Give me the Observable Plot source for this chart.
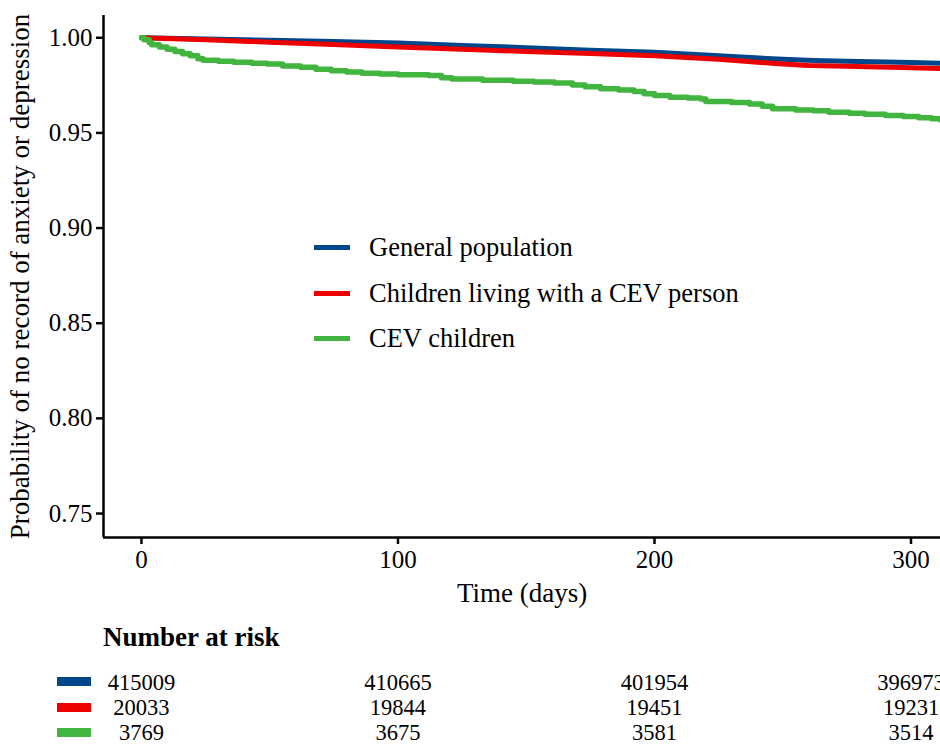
<!DOCTYPE html>
<html><head><meta charset="utf-8">
<script src="https://cdn.jsdelivr.net/npm/d3@7"></script>
<script src="https://cdn.jsdelivr.net/npm/@observablehq/plot@0.6"></script>
<style>
html,body{margin:0;padding:0;background:#fff;overflow:hidden;}
#wrap{position:relative;width:940px;height:744px;overflow:hidden;font-family:"Liberation Serif","Times New Roman",serif;color:#000;}
.abs{position:absolute;}
#wrap svg{overflow:hidden;}
</style></head><body><div id="wrap"></div>
<script>
// ---- data ----
const groups = ["General population", "Children living with a CEV person", "CEV children"];
const colors = ["#00468B", "#ED0000", "#42B540"];

const generalDays = [0, 25, 50, 75, 100, 125, 150, 175, 200, 225, 250, 262, 275, 300, 311.5];
const generalSurv = [1.000, 0.9994, 0.9987, 0.9980, 0.9972, 0.9960, 0.9948, 0.9935, 0.9924, 0.9905, 0.9887, 0.9880, 0.9876, 0.9870, 0.9866];

const householdDays = [0, 25, 50, 75, 100, 125, 150, 175, 200, 225, 250, 260, 275, 300, 311.5];
const householdSurv = [1.000, 0.9989, 0.9977, 0.9965, 0.9952, 0.9940, 0.9928, 0.9917, 0.9905, 0.9887, 0.9862, 0.9854, 0.9850, 0.9843, 0.9838];

const cevDays = [0, 1, 3, 4, 7, 10, 13, 16, 19, 22, 24, 30, 36, 43, 49, 55, 62, 68, 74, 80, 86, 93, 100, 112, 117, 121, 133, 145, 153, 161, 168, 173, 179, 186, 192, 196, 200, 206, 213, 218, 220, 230, 237, 242, 246, 255, 262, 268, 276, 282, 290, 297, 303, 308, 311.5];
const cevSurv = [1.000, 0.9990, 0.9975, 0.9963, 0.9952, 0.9940, 0.9928, 0.9916, 0.9905, 0.9890, 0.9882, 0.9876, 0.9871, 0.9866, 0.9862, 0.9852, 0.9845, 0.9834, 0.9827, 0.9820, 0.9814, 0.9810, 0.9805, 0.9802, 0.9790, 0.9783, 0.9777, 0.9772, 0.9767, 0.9762, 0.9752, 0.9742, 0.9732, 0.9725, 0.9717, 0.9706, 0.9696, 0.9688, 0.9684, 0.9678, 0.9665, 0.9660, 0.9652, 0.9640, 0.9627, 0.9621, 0.9616, 0.9609, 0.9604, 0.9598, 0.9592, 0.9586, 0.9580, 0.9574, 0.9568];

const xTicks = [0, 100, 200, 300];
const yTicks = [0.75, 0.80, 0.85, 0.90, 0.95, 1.00];
const xDomain = [-14.8, 311.5];
const yDomain = [0.7374, 1.0117];

const riskTimes = [0, 100, 200, 300];
const riskGeneral = [415009, 410665, 401954, 396973];
const riskHousehold = [20033, 19844, 19451, 19231];
const riskCev = [3769, 3675, 3581, 3514];

// ---- build tables ----
const seriesDays = [generalDays, householdDays, cevDays];
const seriesSurv = [generalSurv, householdSurv, cevSurv];
const curves = groups.map((g, i) => seriesDays[i].map((d, j) => ({group: g, day: d, surv: seriesSurv[i][j]})));
const riskSeries = [riskGeneral, riskHousehold, riskCev];
const riskRows = groups.flatMap((g, i) => riskTimes.map((t, j) => ({group: g, time: t, n: riskSeries[i][j]})));

const font = '"Liberation Serif","Times New Roman",serif';
const wrap = document.getElementById("wrap");

const main = Plot.plot({
  width: 940, height: 610,
  marginTop: 15, marginBottom: 73, marginLeft: 103, marginRight: 0,
  style: {fontFamily: font, fontSize: "25px", color: "#000", background: "#fff"},
  x: {domain: xDomain},
  y: {domain: yDomain},
  color: {domain: groups, range: colors},
  marks: [
    Plot.axisY(yTicks, {tickFormat: d3.format(".2f"), tickSize: 7, tickPadding: 4, strokeWidth: 2.5, fontSize: 25, label: null}),
    Plot.axisY({ticks: [], tickSize: 0,
      label: "Probability of no record of anxiety or depression", labelArrow: false, labelAnchor: "center", labelOffset: 94, fontSize: 27}),
    Plot.axisX(xTicks, {tickSize: 7, tickPadding: 6, strokeWidth: 2.5, fontSize: 25, label: null}),
    Plot.axisX({ticks: [], tickSize: 0,
      label: "Time (days)", labelArrow: false, labelAnchor: "center", labelOffset: 64, fontSize: 27}),
    Plot.line(curves[0], {x: "day", y: "surv", stroke: "group", strokeWidth: 5, curve: "linear"}),
    Plot.line(curves[1], {x: "day", y: "surv", stroke: "group", strokeWidth: 5, curve: "linear"}),
    Plot.line(curves[2], {x: "day", y: "surv", stroke: "group", strokeWidth: 5.5, curve: "step-after"}),
    Plot.ruleX([xDomain[0]], {strokeWidth: 2.5}),
    Plot.ruleY([yDomain[0]], {strokeWidth: 2.5})
  ]
});
main.style.position = "absolute"; main.style.left = "0px"; main.style.top = "0px";
wrap.appendChild(main);

// in-panel legend
const legendY = [247, 293, 338];
groups.forEach((g, i) => {
  const sw = document.createElement("div");
  sw.className = "abs";
  Object.assign(sw.style, {left: "314px", top: (legendY[i] - 2.5) + "px", width: "36px", height: "5px", background: colors[i]});
  wrap.appendChild(sw);
  const t = document.createElement("div");
  t.className = "abs";
  Object.assign(t.style, {left: "369px", top: (legendY[i] - 15) + "px", fontSize: "26.5px", lineHeight: "30px", whiteSpace: "nowrap"});
  t.textContent = g;
  wrap.appendChild(t);
});

// Number at risk title
const title = document.createElement("div");
title.className = "abs";
Object.assign(title.style, {left: "103px", top: "622px", fontSize: "27px", fontWeight: "bold", lineHeight: "30px", whiteSpace: "nowrap"});
title.textContent = "Number at risk";
wrap.appendChild(title);

// risk table
const table = Plot.plot({
  width: 940, height: 89,
  marginTop: 26.5, marginBottom: 12, marginLeft: 103, marginRight: 0,
  style: {fontFamily: font, fontSize: "22.5px", color: "#000", background: "transparent", overflow: "visible"},
  x: {domain: xDomain, axis: null},
  y: {type: "point", domain: groups, padding: 0, axis: null},
  marks: [
    Plot.text(riskRows, {x: "time", y: "group", text: d => String(d.n), fontSize: 22.5, fill: "#000"})
  ]
});
table.style.position = "absolute"; table.style.left = "0px"; table.style.top = "655px";
wrap.appendChild(table);

const rowY = [681.5, 707, 732];
groups.forEach((g, i) => {
  const sw = document.createElement("div");
  sw.className = "abs";
  Object.assign(sw.style, {left: "57px", top: (rowY[i] - 4.5) + "px", width: "34px", height: "9px", background: colors[i]});
  wrap.appendChild(sw);
});
</script></body></html>
